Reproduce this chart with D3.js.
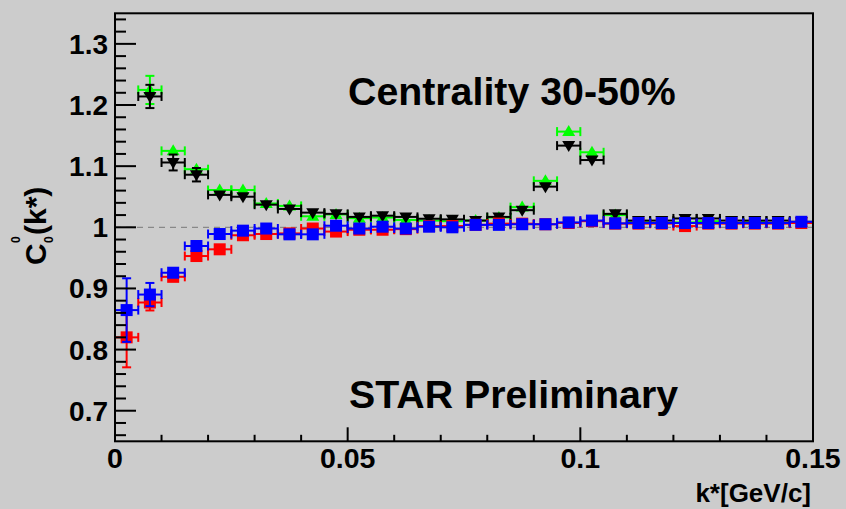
<!DOCTYPE html>
<html><head><meta charset="utf-8">
<script src="https://cdn.jsdelivr.net/npm/d3@7"></script>
<style>
body{margin:0;background:#cccccc;}
text{font-family:"Liberation Sans",Arial,Helvetica,sans-serif;font-weight:bold;fill:#000;}
</style></head>
<body>
<svg id="c" width="846" height="509"></svg>
<script>
// ---- data ----
const binCenters = [0.0025,0.0075,0.0125,0.0175,0.0225,0.0275,0.0325,0.0375,0.0425,0.0475,
  0.0525,0.0575,0.0625,0.0675,0.0725,0.0775,0.0825,0.0875,0.0925,0.0975,
  0.1025,0.1075,0.1125,0.1175,0.1225,0.1275,0.1325,0.1375,0.1425,0.1475];
const binHalfWidth = 0.0025;
// green triangles up (from second bin)
const greenY = [null,1.2247,1.125,1.095,1.061,1.061,1.039,1.035,1.018,1.021,
  1.015,1.016,1.012,1.011,1.010,1.011,1.016,1.033,1.076,1.1565,
  1.1227,1.020,1.008,1.007,1.008,1.010,1.007,1.008,1.007,1.008];
const greenErr = [null,0.023,0.009,0.007,0.005,0.005,0.004,0.004,0.004,0.003,
  0.003,0.003,0.003,0.003,0.003,0.003,0.003,0.003,0.003,0.003,
  0.003,0.003,0.003,0.003,0.003,0.003,0.003,0.003,0.003,0.003];
// black triangles down
const blackY = [null,1.214,1.106,1.086,1.053,1.050,1.037,1.030,1.024,1.022,
  1.017,1.019,1.017,1.014,1.013,1.011,1.017,1.028,1.0665,1.1336,
  1.110,1.022,1.011,1.011,1.0145,1.0145,1.011,1.011,1.011,1.009];
const blackErr = [null,0.019,0.013,0.011,0.007,0.006,0.005,0.005,0.004,0.003,
  0.003,0.003,0.003,0.003,0.003,0.003,0.003,0.003,0.003,0.003,
  0.003,0.003,0.003,0.003,0.003,0.003,0.003,0.003,0.003,0.003];
// red squares
const redY = [0.820,0.877,0.919,0.953,0.964,0.987,0.989,0.990,0.998,0.993,
  0.996,0.996,0.997,1.002,1.002,1.004,1.006,1.006,1.005,1.007,
  1.010,1.006,1.006,1.006,1.002,1.006,1.006,1.006,1.006,1.007];
const redErr = [0.049,0.013,0.006,0.005,0.004,0.003,0.003,0.003,0.003,0.003,
  0.003,0.003,0.003,0.003,0.003,0.003,0.003,0.003,0.003,0.003,
  0.003,0.003,0.003,0.003,0.003,0.003,0.003,0.003,0.003,0.003];
// blue squares
const blueY = [0.8646,0.890,0.9257,0.9694,0.989,0.9945,0.998,0.9885,0.9885,1.0026,
  0.998,1.001,0.998,1.001,1.000,1.004,1.004,1.005,1.005,1.008,
  1.011,1.0065,1.007,1.007,1.007,1.007,1.007,1.007,1.007,1.009];
const blueErr = [0.052,0.019,0.006,0.005,0.004,0.003,0.003,0.003,0.003,0.003,
  0.003,0.003,0.003,0.003,0.003,0.003,0.003,0.003,0.003,0.003,
  0.003,0.003,0.003,0.003,0.003,0.003,0.003,0.003,0.003,0.003];

const xMajorTicks = [0,0.05,0.1,0.15];
const xTickLabels = ["0","0.05","0.1","0.15"];
const yMajorTicks = [0.7,0.8,0.9,1.0,1.1,1.2,1.3];
const yTickLabels = ["0.7","0.8","0.9","1","1.1","1.2","1.3"];

// ---- layout ----
const svg = d3.select("#c");
svg.append("rect").attr("width",846).attr("height",509).attr("fill","#cccccc");
const L=115, R=813, T=13.3, B=441.3;
const x = d3.scaleLinear().domain([0,0.15]).range([L,R]);
const y = d3.scaleLinear().domain([0.65,1.35]).range([B,T]);

// dashed reference line at 1
svg.append("line").attr("x1",L).attr("x2",R).attr("y1",y(1)).attr("y2",y(1))
  .attr("stroke","#888").attr("stroke-width",1.2).attr("stroke-dasharray","6,5");

// series drawing
function drawSeries(vals, errs, color, shape){
  const g = svg.append("g");
  const pts = binCenters.map((c,i)=>({c, v:vals[i], e:errs[i]})).filter(d=>d.v!==null);
  const cap = 4.5;
  pts.forEach(d=>{
    const px=x(d.c), py=y(d.v);
    const x0=x(d.c-binHalfWidth), x1=x(d.c+binHalfWidth);
    const y0=y(d.v-d.e), y1=y(d.v+d.e);
    const s = g.append("g").attr("stroke",color).attr("stroke-width",2).attr("fill","none");
    s.append("line").attr("x1",x0).attr("x2",x1).attr("y1",py).attr("y2",py);
    s.append("line").attr("x1",x0).attr("x2",x0).attr("y1",py-cap).attr("y2",py+cap);
    s.append("line").attr("x1",x1).attr("x2",x1).attr("y1",py-cap).attr("y2",py+cap);
    if (py - y1 > 6.5) {
      s.append("line").attr("x1",px).attr("x2",px).attr("y1",y1).attr("y2",y0);
      s.append("line").attr("x1",px-cap).attr("x2",px+cap).attr("y1",y1).attr("y2",y1);
      s.append("line").attr("x1",px-cap).attr("x2",px+cap).attr("y1",y0).attr("y2",y0);
    }
  });
  pts.forEach(d=>{
    const px=x(d.c), py=y(d.v);
    if (shape==="square"){
      g.append("rect").attr("x",px-6).attr("y",py-6).attr("width",12).attr("height",12).attr("fill",color);
    } else if (shape==="up"){
      g.append("path").attr("d",`M${px-6.5},${py+4.5}L${px+6.5},${py+4.5}L${px},${py-6.5}Z`).attr("fill",color);
    } else {
      g.append("path").attr("d",`M${px-6.5},${py-4.5}L${px+6.5},${py-4.5}L${px},${py+6.5}Z`).attr("fill",color);
    }
  });
}
drawSeries(greenY, greenErr, "#00ff00", "up");
drawSeries(blackY, blackErr, "#000000", "down");
drawSeries(redY, redErr, "#ff0000", "square");
drawSeries(blueY, blueErr, "#0000ff", "square");

// frame
svg.append("rect").attr("x",L).attr("y",T).attr("width",R-L).attr("height",B-T)
  .attr("fill","none").attr("stroke","#000").attr("stroke-width",2);

// y ticks (inside)
const yMinor = d3.range(0.66,1.3501,0.02).map(v=>+v.toFixed(2));
svg.append("g").selectAll("line").data(yMinor).join("line")
  .attr("x1",L).attr("x2",d=> yMajorTicks.some(m=>Math.abs(m-d)<1e-6)?L+21:L+11)
  .attr("y1",d=>y(d)).attr("y2",d=>y(d)).attr("stroke","#000").attr("stroke-width",2);
svg.append("g").selectAll("text").data(yMajorTicks).join("text")
  .attr("x",108).attr("y",d=>y(d)+10).attr("text-anchor","end").attr("font-size",28)
  .text((d,i)=>yTickLabels[i]);

// x ticks (inside)
const xMinor = d3.range(0,0.1501,0.01).map(v=>+v.toFixed(2));
svg.append("g").selectAll("line").data(xMinor).join("line")
  .attr("x1",d=>x(d)).attr("x2",d=>x(d))
  .attr("y1",B).attr("y2",d=> xMajorTicks.some(m=>Math.abs(m-d)<1e-6)?B-14:B-6.5)
  .attr("stroke","#000").attr("stroke-width",2);
svg.append("g").selectAll("text").data(xMajorTicks).join("text")
  .attr("x",d=>x(d)).attr("y",468).attr("text-anchor","middle").attr("font-size",28.5)
  .text((d,i)=>xTickLabels[i]);

// axis titles
svg.append("text").attr("x",811).attr("y",502).attr("text-anchor","end").attr("font-size",26).text("k*[GeV/c]");
const yt = svg.append("g").attr("transform","translate(46,265) rotate(-90)");
yt.append("text").attr("x",0).attr("y",0).attr("font-size",30).text("C");
yt.append("text").attr("x",22).attr("y",-26).attr("font-size",12).text("0");
yt.append("text").attr("x",22).attr("y",7).attr("font-size",12).text("0");
yt.append("text").attr("x",30).attr("y",0).attr("font-size",30).text("(k*)");

// annotations
svg.append("text").attr("x",348).attr("y",105).attr("font-size",39.3).text("Centrality 30-50%");
svg.append("text").attr("x",349).attr("y",408).attr("font-size",39.3).text("STAR Preliminary");
</script>
</body></html>
